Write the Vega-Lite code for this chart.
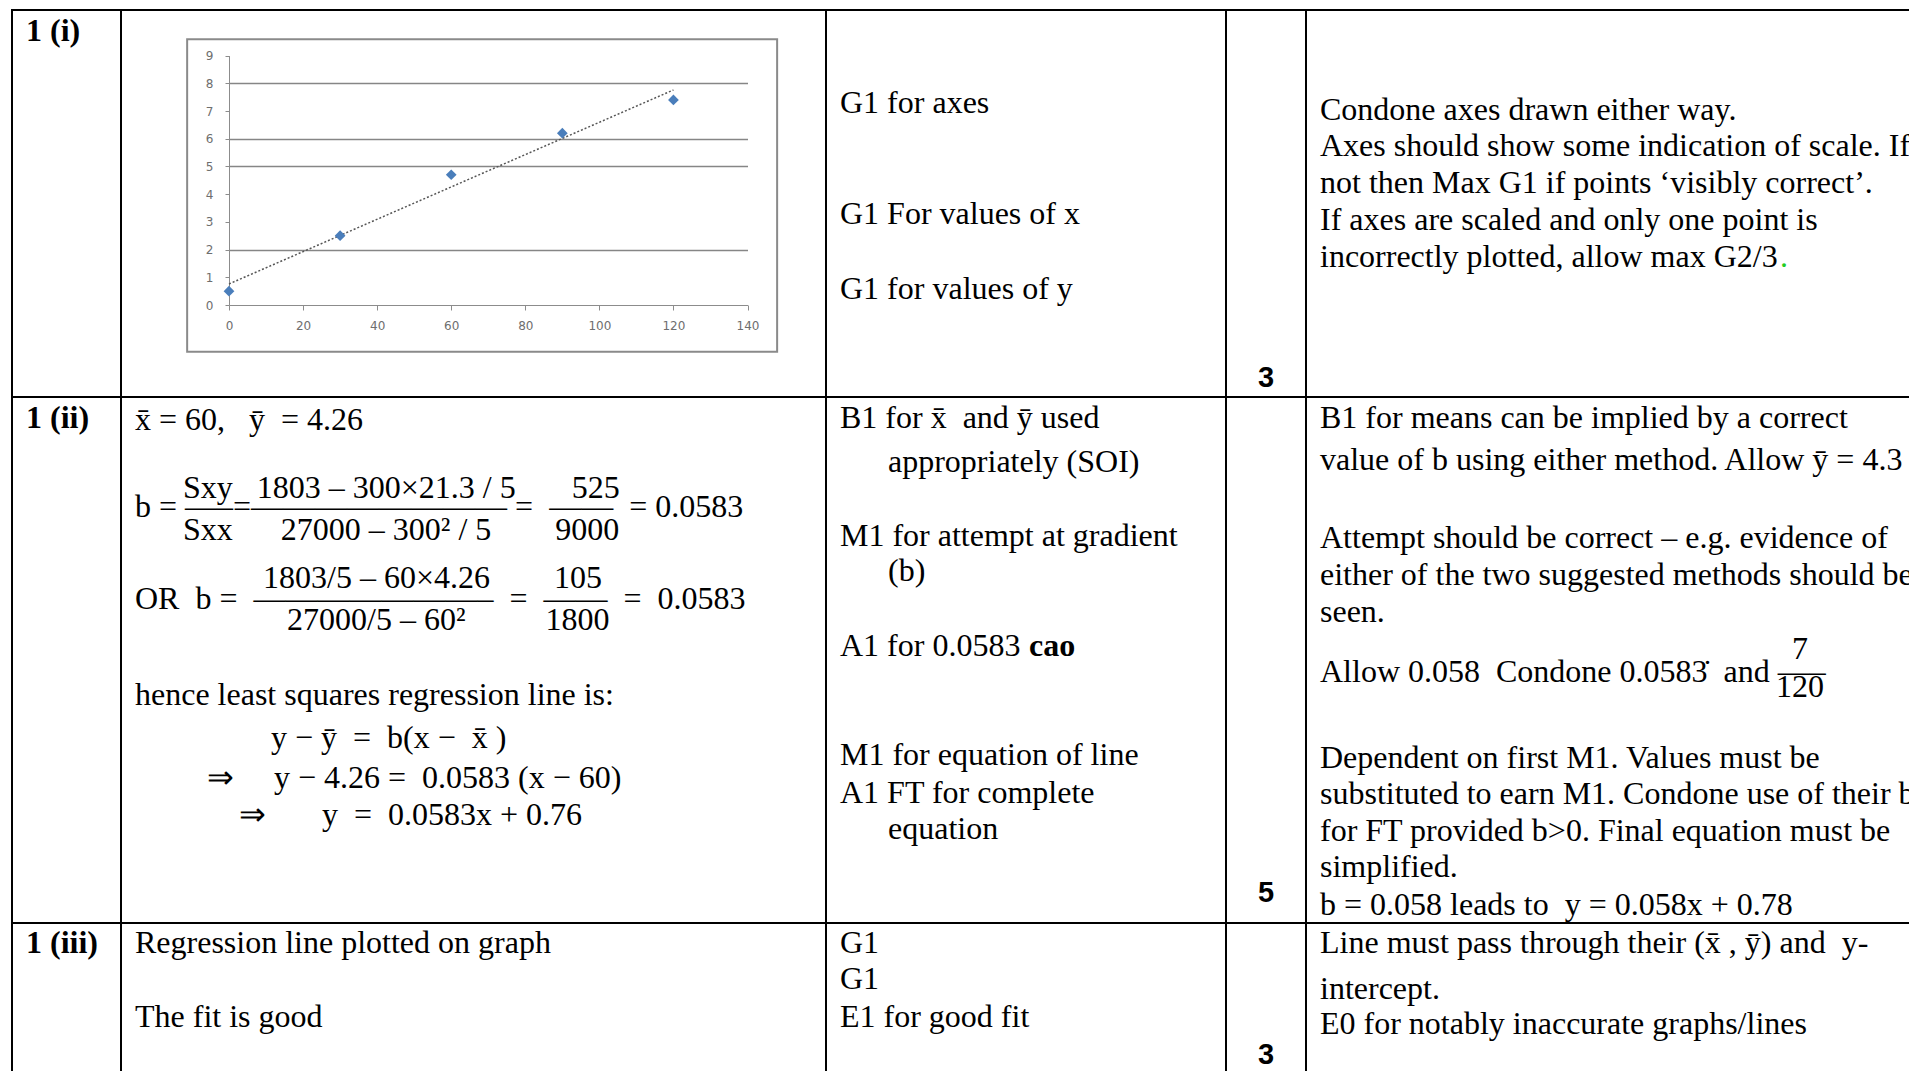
{
  "$schema": "https://vega.github.io/schema/vega-lite/v6.json",
  "padding": {"left": 11, "top": 9, "right": -2, "bottom": -2},
  "background": "white",
  "spacing": 0,
  "bounds": "flush",
  "columns": 5,
  "config": {"view": {"stroke": null}, "concat": {"spacing": 0}},
  "concat": [
        {
          "width": 109, "height": 387,
          "view": {"stroke": "black", "strokeWidth": 2},
          "data": {"values": [{"line": 0.56, "text": "1 (i)"}]},
          "mark": {"type": "text", "align": "left", "baseline": "middle", "dx": 14, "font": "Liberation Serif", "fontSize": 32, "fontWeight": "bold", "fill": "black", "clip": true},
          "encoding": {"x": {"value": 0}, "y": {"field": "line", "type": "quantitative", "scale": {"domain": [0, 10], "range": [0, 369]}, "axis": null}, "text": {"field": "text"}}
        },
        {
          "width": 705, "height": 387,
          "view": {"stroke": "black", "strokeWidth": 2},
          "data": {"values": [{"x": 0, "y": 0.5}, {"x": 30, "y": 2.5}, {"x": 60, "y": 4.7}, {"x": 90, "y": 6.2}, {"x": 120, "y": 7.4}]},
          "layer": [
            {
              "data": {"values": [{}]},
              "mark": {"type": "rect", "fill": "white", "fillOpacity": 0, "stroke": "#8a8a8a", "strokeWidth": 2},
              "encoding": {
                "x": {"datum": -11.3, "type": "quantitative", "scale": {"domain": [0, 140], "range": [108, 626.5], "nice": false, "zero": false}},
                "x2": {"datum": 148},
                "y": {"datum": -1.69, "type": "quantitative", "scale": {"domain": [0, 9], "range": [295, 45.6], "nice": false, "zero": false}},
                "y2": {"datum": 9.59}
              }
            },
            {
              "transform": [{"regression": "y", "on": "x"}],
              "mark": {"type": "line", "color": "#555555", "strokeDash": [2, 2], "strokeWidth": 1.5},
              "encoding": {
                "x": {"field": "x", "type": "quantitative"},
                "y": {"field": "y", "type": "quantitative"}
              }
            },
            {
              "mark": {"type": "point", "shape": "diamond", "filled": true, "color": "#4a7ebb", "opacity": 1, "size": 115},
              "encoding": {
                "x": {
                  "field": "x", "type": "quantitative",
                  "scale": {"domain": [0, 140], "range": [108, 626.5], "nice": false, "zero": false},
                  "axis": {"values": [0, 20, 40, 60, 80, 100, 120, 140], "offset": -92, "title": null, "grid": false, "domainColor": "#8c8c8c", "tickColor": "#8c8c8c", "tickSize": 5, "labelFont": "DejaVu Sans", "labelFontSize": 12, "labelColor": "#6e6e6e", "labelPadding": 10, "labelFlush": false, "labelOverlap": false}
                },
                "y": {
                  "field": "y", "type": "quantitative",
                  "scale": {"domain": [0, 9], "range": [295, 45.6], "nice": false, "zero": false},
                  "axis": {"values": [0, 1, 2, 3, 4, 5, 6, 7, 8, 9], "offset": -108, "title": null, "grid": true, "gridColor": "#868686", "gridWidth": 1.5, "gridOpacity": {"condition": {"test": "indexof([2, 5, 6, 8], datum.value) >= 0", "value": 1}, "value": 0}, "domainColor": "#8c8c8c", "tickColor": "#8c8c8c", "tickSize": 4, "labelFont": "DejaVu Sans", "labelFontSize": 12, "labelColor": "#6e6e6e", "labelPadding": 12, "labelOverlap": false}
                }
              }
            }
          ]
        },
        {
          "width": 400, "height": 387,
          "view": {"stroke": "black", "strokeWidth": 2},
          "data": {"values": [
            {"line": 2.53, "text": "G1 for axes"},
            {"line": 5.54, "text": "G1 For values of x"},
            {"line": 7.55, "text": "G1 for values of y"}
          ]},
          "mark": {"type": "text", "align": "left", "baseline": "middle", "dx": 14, "font": "Liberation Serif", "fontSize": 32, "fill": "black", "clip": true},
          "encoding": {"x": {"value": 0}, "y": {"field": "line", "type": "quantitative", "scale": {"domain": [0, 10], "range": [0, 369]}, "axis": null}, "text": {"field": "text"}}
        },
        {
          "width": 80, "height": 387,
          "view": {"stroke": "black", "strokeWidth": 2},
          "data": {"values": [{"line": 9.96, "text": "3"}]},
          "mark": {"type": "text", "align": "center", "baseline": "middle", "font": "Liberation Sans", "fontSize": 29, "fontWeight": "bold", "fill": "black"},
          "encoding": {"y": {"field": "line", "type": "quantitative", "scale": {"domain": [0, 10], "range": [0, 369]}, "axis": null}, "text": {"field": "text"}}
        },
        {
          "width": 604, "height": 387,
          "view": {"stroke": "black", "strokeWidth": 2},
          "layer": [
            {
              "data": {"values": [
                {"line": 2.70, "text": "Condone axes drawn either way."},
                {"line": 3.69, "text": "Axes should show some indication of scale. If"},
                {"line": 4.68, "text": "not then Max G1 if points ‘visibly correct’."},
                {"line": 5.70, "text": "If axes are scaled and only one point is"},
                {"line": 6.69, "text": "incorrectly plotted, allow max G2/3"}
              ]},
              "mark": {"type": "text", "align": "left", "baseline": "middle", "dx": 14, "font": "Liberation Serif", "fontSize": 32, "fill": "black", "clip": true},
              "encoding": {"x": {"value": 0}, "y": {"field": "line", "type": "quantitative", "scale": {"domain": [0, 10], "range": [0, 369]}, "axis": null}, "text": {"field": "text"}}
            },
            {
              "data": {"values": [{"line": 6.69, "text": "."}]},
              "mark": {"type": "text", "align": "left", "baseline": "middle", "dx": 474, "font": "Liberation Serif", "fontSize": 32, "fill": "#22cc22", "clip": true},
              "encoding": {"x": {"value": 0}, "y": {"field": "line", "type": "quantitative", "scale": {"domain": [0, 10], "range": [0, 369]}, "axis": null}, "text": {"field": "text"}}
            }
          ]
        },
        {
          "width": 109, "height": 526,
          "view": {"stroke": "black", "strokeWidth": 2},
          "data": {"values": [{"line": 0.56, "text": "1 (ii)"}]},
          "mark": {"type": "text", "align": "left", "baseline": "middle", "dx": 14, "font": "Liberation Serif", "fontSize": 32, "fontWeight": "bold", "fill": "black", "clip": true},
          "encoding": {"x": {"value": 0}, "y": {"field": "line", "type": "quantitative", "scale": {"domain": [0, 10], "range": [0, 369]}, "axis": null}, "text": {"field": "text"}}
        },
        {
          "width": 705, "height": 526,
          "view": {"stroke": "black", "strokeWidth": 2},
          "data": {"values": [
            {"line": 0.62, "text": "x\u0304 = 60,\u00a0\u00a0\u00a0\u0233\u00a0 = 4.26"},
            {"line": 2.47, "text": "\u200b\u00a0\u00a0\u00a0\u00a0\u00a0\u00a0Sxy\u00a0\u00a0\u00a01803 – 300×21.3 / 5\u00a0\u00a0\u00a0\u00a0\u00a0\u00a0\u00a0525"},
            {"line": 2.97, "text": "b =\u00a0—–=————————\u00a0=\u00a0\u00a0——\u00a0\u00a0= 0.0583"},
            {"line": 3.60, "text": "\u200b\u00a0\u00a0\u00a0\u00a0\u00a0\u00a0Sxx\u00a0\u00a0\u00a0\u00a0\u00a0\u00a027000 – 300² / 5\u00a0\u00a0\u00a0\u00a0\u00a0\u00a0\u00a0\u00a09000"},
            {"line": 4.91, "text": "\u200b\u00a0\u00a0\u00a0\u00a0\u00a0\u00a0\u00a0\u00a0\u00a0\u00a0\u00a0\u00a0\u00a0\u00a0\u00a0\u00a01803/5 – 60×4.26\u00a0\u00a0\u00a0\u00a0\u00a0\u00a0\u00a0\u00a0105"},
            {"line": 5.47, "text": "OR\u00a0\u00a0b =\u00a0\u00a0———————–\u00a0\u00a0=\u00a0\u00a0——\u00a0\u00a0=\u00a0\u00a00.0583"},
            {"line": 6.04, "text": "\u200b\u00a0\u00a0\u00a0\u00a0\u00a0\u00a0\u00a0\u00a0\u00a0\u00a0\u00a0\u00a0\u00a0\u00a0\u00a0\u00a0\u00a0\u00a0\u00a027000/5 – 60²\u00a0\u00a0\u00a0\u00a0\u00a0\u00a0\u00a0\u00a0\u00a0\u00a01800"},
            {"line": 8.08, "text": "hence least squares regression line is:"},
            {"line": 9.24, "text": "\u200b\u00a0\u00a0\u00a0\u00a0\u00a0\u00a0\u00a0\u00a0\u00a0\u00a0\u00a0\u00a0\u00a0\u00a0\u00a0\u00a0\u00a0y − \u0233\u00a0\u00a0=\u00a0\u00a0b(x −\u00a0\u00a0x\u0304 )"},
            {"line": 10.33, "text": "\u200b\u00a0\u00a0\u00a0\u00a0\u00a0\u00a0\u00a0\u00a0\u00a0⇒\u00a0\u00a0\u00a0\u00a0\u00a0y − 4.26 =\u00a0\u00a00.0583 (x − 60)"},
            {"line": 11.33, "text": "\u200b\u00a0\u00a0\u00a0\u00a0\u00a0\u00a0\u00a0\u00a0\u00a0\u00a0\u00a0\u00a0\u00a0⇒\u00a0\u00a0\u00a0\u00a0\u00a0\u00a0\u00a0y\u00a0\u00a0=\u00a0\u00a00.0583x + 0.76"}
          ]},
          "mark": {"type": "text", "align": "left", "baseline": "middle", "dx": 14, "font": "Liberation Serif", "fontSize": 32, "fill": "black", "clip": true},
          "encoding": {"x": {"value": 0}, "y": {"field": "line", "type": "quantitative", "scale": {"domain": [0, 10], "range": [0, 369]}, "axis": null}, "text": {"field": "text"}}
        },
        {
          "width": 400, "height": 526,
          "view": {"stroke": "black", "strokeWidth": 2},
          "layer": [
            {
              "data": {"values": [
                {"line": 0.57, "text": "B1 for x\u0304\u00a0 and \u0233 used"},
                {"line": 1.75, "text": "\u200b\u00a0\u00a0\u00a0\u00a0\u00a0\u00a0appropriately (SOI)"},
                {"line": 3.77, "text": "M1 for attempt at gradient"},
                {"line": 4.72, "text": "\u200b\u00a0\u00a0\u00a0\u00a0\u00a0\u00a0(b)"},
                {"line": 6.74, "text": "A1 for 0.0583"},
                {"line": 9.70, "text": "M1 for equation of line"},
                {"line": 10.73, "text": "A1 FT for complete"},
                {"line": 11.72, "text": "\u200b\u00a0\u00a0\u00a0\u00a0\u00a0\u00a0equation"}
              ]},
              "mark": {"type": "text", "align": "left", "baseline": "middle", "dx": 14, "font": "Liberation Serif", "fontSize": 32, "fill": "black", "clip": true},
              "encoding": {"x": {"value": 0}, "y": {"field": "line", "type": "quantitative", "scale": {"domain": [0, 10], "range": [0, 369]}, "axis": null}, "text": {"field": "text"}}
            },
            {
              "data": {"values": [{"line": 6.74, "text": "cao"}]},
              "mark": {"type": "text", "align": "left", "baseline": "middle", "dx": 203, "font": "Liberation Serif", "fontSize": 32, "fontWeight": "bold", "fill": "black", "clip": true},
              "encoding": {"x": {"value": 0}, "y": {"field": "line", "type": "quantitative", "scale": {"domain": [0, 10], "range": [0, 369]}, "axis": null}, "text": {"field": "text"}}
            }
          ]
        },
        {
          "width": 80, "height": 526,
          "view": {"stroke": "black", "strokeWidth": 2},
          "data": {"values": [{"line": 13.44, "text": "5"}]},
          "mark": {"type": "text", "align": "center", "baseline": "middle", "font": "Liberation Sans", "fontSize": 29, "fontWeight": "bold", "fill": "black"},
          "encoding": {"y": {"field": "line", "type": "quantitative", "scale": {"domain": [0, 10], "range": [0, 369]}, "axis": null}, "text": {"field": "text"}}
        },
        {
          "width": 604, "height": 526,
          "view": {"stroke": "black", "strokeWidth": 2},
          "data": {"values": [
            {"line": 0.57, "text": "B1 for means can be implied by a correct"},
            {"line": 1.72, "text": "value of b using either method. Allow \u0233 = 4.3"},
            {"line": 3.83, "text": "Attempt should be correct – e.g. evidence of"},
            {"line": 4.82, "text": "either of the two suggested methods should be"},
            {"line": 5.84, "text": "seen."},
            {"line": 6.83, "text": "\u200b\u00a0\u00a0\u00a0\u00a0\u00a0\u00a0\u00a0\u00a0\u00a0\u00a0\u00a0\u00a0\u00a0\u00a0\u00a0\u00a0\u00a0\u00a0\u00a0\u00a0\u00a0\u00a0\u00a0\u00a0\u00a0\u00a0\u00a0\u00a0\u00a0\u00a0\u00a0\u00a0\u00a0\u00a0\u00a0\u00a0\u00a0\u00a0\u00a0\u00a0\u00a0\u00a0\u00a0\u00a0\u00a0\u00a0\u00a0\u00a0\u00a0\u00a0\u00a0\u00a0\u00a0\u00a0\u00a0\u00a0\u00a0\u00a0\u00a07"},
            {"line": 7.46, "text": "Allow 0.058\u00a0 Condone 0.0583\u0307\u00a0 and\u00a0—–"},
            {"line": 7.86, "text": "\u200b\u00a0\u00a0\u00a0\u00a0\u00a0\u00a0\u00a0\u00a0\u00a0\u00a0\u00a0\u00a0\u00a0\u00a0\u00a0\u00a0\u00a0\u00a0\u00a0\u00a0\u00a0\u00a0\u00a0\u00a0\u00a0\u00a0\u00a0\u00a0\u00a0\u00a0\u00a0\u00a0\u00a0\u00a0\u00a0\u00a0\u00a0\u00a0\u00a0\u00a0\u00a0\u00a0\u00a0\u00a0\u00a0\u00a0\u00a0\u00a0\u00a0\u00a0\u00a0\u00a0\u00a0\u00a0\u00a0\u00a0\u00a0120"},
            {"line": 9.77, "text": "Dependent on first M1. Values must be"},
            {"line": 10.76, "text": "substituted to earn M1. Condone use of their b"},
            {"line": 11.75, "text": "for FT provided b>0. Final equation must be"},
            {"line": 12.74, "text": "simplified."},
            {"line": 13.77, "text": "b = 0.058 leads to\u00a0 y = 0.058x + 0.78"}
          ]},
          "mark": {"type": "text", "align": "left", "baseline": "middle", "dx": 14, "font": "Liberation Serif", "fontSize": 32, "fill": "black", "clip": true},
          "encoding": {"x": {"value": 0}, "y": {"field": "line", "type": "quantitative", "scale": {"domain": [0, 10], "range": [0, 369]}, "axis": null}, "text": {"field": "text"}}
        },
        {
          "width": 109, "height": 149,
          "view": {"stroke": "black", "strokeWidth": 2},
          "data": {"values": [{"line": 0.54, "text": "1 (iii)"}]},
          "mark": {"type": "text", "align": "left", "baseline": "middle", "dx": 14, "font": "Liberation Serif", "fontSize": 32, "fontWeight": "bold", "fill": "black", "clip": true},
          "encoding": {"x": {"value": 0}, "y": {"field": "line", "type": "quantitative", "scale": {"domain": [0, 10], "range": [0, 369]}, "axis": null}, "text": {"field": "text"}}
        },
        {
          "width": 705, "height": 149,
          "view": {"stroke": "black", "strokeWidth": 2},
          "data": {"values": [
            {"line": 0.54, "text": "Regression line plotted on graph"},
            {"line": 2.55, "text": "The fit is good"}
          ]},
          "mark": {"type": "text", "align": "left", "baseline": "middle", "dx": 14, "font": "Liberation Serif", "fontSize": 32, "fill": "black", "clip": true},
          "encoding": {"x": {"value": 0}, "y": {"field": "line", "type": "quantitative", "scale": {"domain": [0, 10], "range": [0, 369]}, "axis": null}, "text": {"field": "text"}}
        },
        {
          "width": 400, "height": 149,
          "view": {"stroke": "black", "strokeWidth": 2},
          "data": {"values": [
            {"line": 0.54, "text": "G1"},
            {"line": 1.53, "text": "G1"},
            {"line": 2.55, "text": "E1 for good fit"}
          ]},
          "mark": {"type": "text", "align": "left", "baseline": "middle", "dx": 14, "font": "Liberation Serif", "fontSize": 32, "fill": "black", "clip": true},
          "encoding": {"x": {"value": 0}, "y": {"field": "line", "type": "quantitative", "scale": {"domain": [0, 10], "range": [0, 369]}, "axis": null}, "text": {"field": "text"}}
        },
        {
          "width": 80, "height": 149,
          "view": {"stroke": "black", "strokeWidth": 2},
          "data": {"values": [{"line": 3.57, "text": "3"}]},
          "mark": {"type": "text", "align": "center", "baseline": "middle", "font": "Liberation Sans", "fontSize": 29, "fontWeight": "bold", "fill": "black"},
          "encoding": {"y": {"field": "line", "type": "quantitative", "scale": {"domain": [0, 10], "range": [0, 369]}, "axis": null}, "text": {"field": "text"}}
        },
        {
          "width": 604, "height": 149,
          "view": {"stroke": "black", "strokeWidth": 2},
          "data": {"values": [
            {"line": 0.54, "text": "Line must pass through their (x\u0304 , \u0233) and\u00a0 y-"},
            {"line": 1.79, "text": "intercept."},
            {"line": 2.75, "text": "E0 for notably inaccurate graphs/lines"}
          ]},
          "mark": {"type": "text", "align": "left", "baseline": "middle", "dx": 14, "font": "Liberation Serif", "fontSize": 32, "fill": "black", "clip": true},
          "encoding": {"x": {"value": 0}, "y": {"field": "line", "type": "quantitative", "scale": {"domain": [0, 10], "range": [0, 369]}, "axis": null}, "text": {"field": "text"}}
        }
  ]
}
